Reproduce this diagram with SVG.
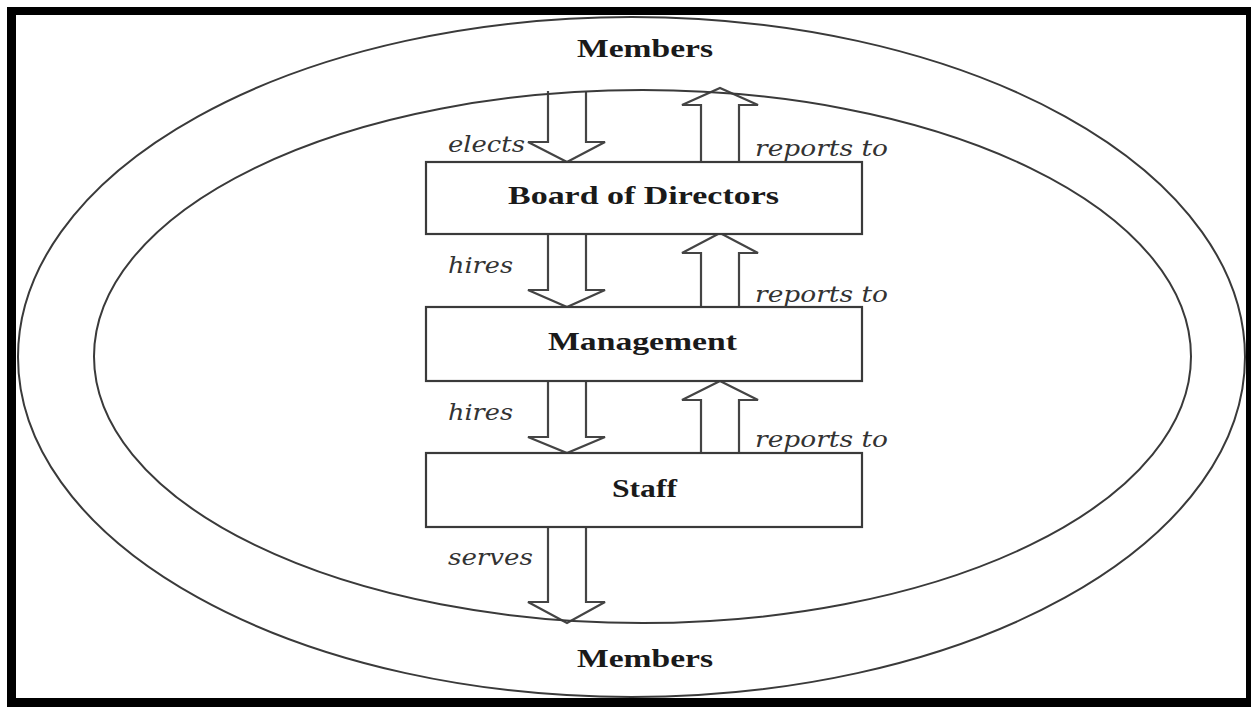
<svg xmlns="http://www.w3.org/2000/svg" width="1251" height="707" viewBox="0 0 1251 707">
<style>
.ell{fill:none;stroke:#3a3a3a;stroke-width:2}
.box{fill:#fff;stroke:#3a3a3a;stroke-width:2.2}
.arr{fill:#fff;stroke:#444;stroke-width:2.2;stroke-linejoin:miter}
.title{font-family:"Liberation Serif",serif;font-weight:bold;font-size:25px;fill:#1a1a1a}
.lbl{font-family:"DejaVu Serif",serif;font-style:italic;font-size:22px;fill:#333}
</style>
<rect x="7" y="7" width="1244" height="700" fill="#000"/>
<rect x="16" y="15" width="1230" height="683" fill="#fff"/>
<g id="connectors">
<path class="arr" d="M548,91 V142 H528 L567,162 L605,142 H586 V91"/>
<path class="arr" d="M701,162 V105 H682 L720,88 L758,105 H739 V162"/>
<path class="arr" d="M548,234 V290 H528 L567,307 L605,290 H586 V234"/>
<path class="arr" d="M701,307 V253 H682 L720,233 L758,253 H739 V307"/>
<path class="arr" d="M548,381 V437 H528 L567,453 L605,437 H586 V381"/>
<path class="arr" d="M701,453 V400 H682 L720,381 L758,400 H739 V453"/>
<path class="arr" d="M548,527 V602 H528 L567,623 L605,602 H586 V527"/>
<text class="lbl" x="448" y="152" textLength="77" lengthAdjust="spacingAndGlyphs">elects</text>
<text class="lbl" x="755" y="156" textLength="133" lengthAdjust="spacingAndGlyphs">reports to</text>
<text class="lbl" x="448" y="273" textLength="65" lengthAdjust="spacingAndGlyphs">hires</text>
<text class="lbl" x="755" y="302" textLength="133" lengthAdjust="spacingAndGlyphs">reports to</text>
<text class="lbl" x="448" y="420" textLength="65" lengthAdjust="spacingAndGlyphs">hires</text>
<text class="lbl" x="755" y="447" textLength="133" lengthAdjust="spacingAndGlyphs">reports to</text>
<text class="lbl" x="448" y="565" textLength="85" lengthAdjust="spacingAndGlyphs">serves</text>
</g>
<g id="members-outer">
<ellipse class="ell" cx="631.5" cy="357" rx="613.5" ry="340"/>
<text class="title" x="645" y="57" text-anchor="middle" textLength="136" lengthAdjust="spacingAndGlyphs">Members</text>
</g>
<g id="members-inner">
<ellipse class="ell" cx="642.5" cy="356.5" rx="548.5" ry="266.5"/>
<text class="title" x="645" y="667" text-anchor="middle" textLength="136" lengthAdjust="spacingAndGlyphs">Members</text>
</g>
<g id="board">
<rect class="box" x="426" y="162" width="436" height="72"/>
<text class="title" x="643.5" y="204" text-anchor="middle" textLength="271" lengthAdjust="spacingAndGlyphs">Board of Directors</text>
</g>
<g id="management">
<rect class="box" x="426" y="307" width="436" height="74"/>
<text class="title" x="642.5" y="350" text-anchor="middle" textLength="189" lengthAdjust="spacingAndGlyphs">Management</text>
</g>
<g id="staff">
<rect class="box" x="426" y="453" width="436" height="74"/>
<text class="title" x="644.5" y="497" text-anchor="middle" textLength="65" lengthAdjust="spacingAndGlyphs">Staff</text>
</g>
</svg>
